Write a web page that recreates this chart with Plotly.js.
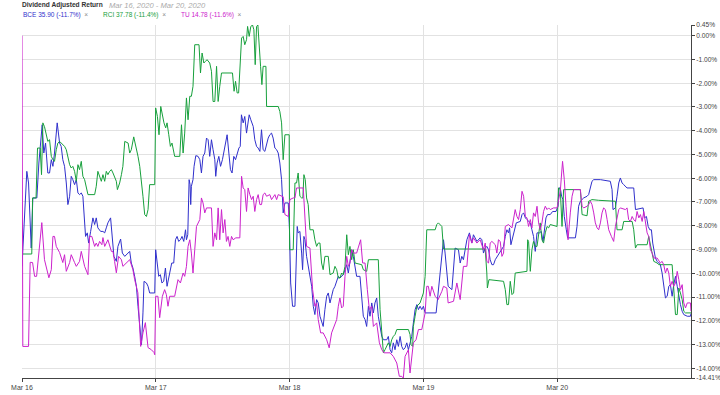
<!DOCTYPE html>
<html>
<head>
<meta charset="utf-8">
<script src="https://cdn.plot.ly/plotly-3.0.1.min.js"></script>
<style>html,body{margin:0;padding:0;background:#fff;}#chart{width:720px;height:395px;}</style>
</head>
<body>
<div id="chart"></div>
<script>
// x = trading-session offset in days from Mar 16 open; y = dividend adjusted return (%)
const dayTicks = [0, 1, 2, 3, 4];
const dayLabels = ["Mar 16", "Mar 17", "Mar 18", "Mar 19", "Mar 20"];
const yTicks = [0.45, 0, -1, -2, -3, -4, -5, -6, -7, -8, -9, -10, -11, -12, -13, -14, -14.41];
const seriesNames = ["BCE", "RCI", "TU"];
const legendLabels = ["BCE 35.90 (-11.7%)", "RCI 37.78 (-11.4%)", "TU 14.78 (-11.6%)"];
const seriesColors = ["#3030cc", "#17a03c", "#cc22cc"];

const bcePoints = [[0,-9.71],[.036,-5.71],[.049,-6.20],[.069,-8.94],[.081,-6.83],[.111,-6.83],[.126,-5.36],[.138,-4.73],[.151,-3.75],[.163,-4.94],[.176,-4.52],[.193,-5.78],[.206,-5.78],[.219,-5.22],[.231,-5.50],[.243,-4.94],[.256,-4.17],[.263,-3.67],[.281,-4.52],[.293,-4.66],[.305,-5.22],[.318,-5.50],[.331,-6.20],[.343,-7.11],[.356,-6.76],[.368,-5.92],[.380,-6.06],[.393,-6.27],[.406,-6.06],[.418,-6.62],[.430,-6.69],[.443,-6.62],[.455,-6.76],[.468,-8.24],[.475,-8.45],[.488,-8.30],[.498,-8.73],[.513,-8.24],[.530,-7.67],[.543,-7.95],[.555,-7.67],[.567,-8.09],[.588,-8.24],[.605,-8.24],[.618,-8.30],[.630,-8.09],[.642,-7.88],[.662,-7.67],[.672,-8.30],[.687,-9.29],[.705,-9.50],[.717,-8.87],[.737,-8.56],[.750,-9.15],[.768,-9.29],[.780,-9.22],[.792,-9.15],[.805,-9.08],[.817,-9.57],[.829,-9.78],[.842,-10.13],[.855,-10.55],[.867,-11.39],[.880,-12.24],[.893,-13.01],[.904,-11.67],[.912,-10.34],[.930,-10.41],[.942,-10.55],[.954,-10.83],[.992,-10.83],[.999,-9.01],[1.009,-9.57],[1.022,-10.13],[1.034,-10.06],[1.046,-10.41],[1.059,-10.34],[1.072,-9.78],[1.084,-10.55],[1.097,-10.13],[1.109,-9.85],[1.119,-9.57],[1.134,-9.57],[1.147,-8.59],[1.159,-8.45],[1.171,-8.66],[1.184,-8.59],[1.196,-8.45],[1.209,-8.66],[1.222,-8.17],[1.229,-8.59],[1.239,-8.38],[1.249,-6.06],[1.256,-6.27],[1.261,-7.11],[1.266,-6.34],[1.278,-6.06],[1.286,-5.50],[1.299,-5.05],[1.316,-5.08],[1.329,-5.22],[1.341,-5.78],[1.353,-5.08],[1.366,-4.94],[1.379,-4.31],[1.391,-4.38],[1.403,-5.08],[1.416,-4.38],[1.428,-4.80],[1.441,-5.22],[1.448,-5.92],[1.458,-5.36],[1.471,-5.08],[1.484,-5.50],[1.498,-5.22],[1.508,-4.94],[1.521,-4.52],[1.533,-4.17],[1.546,-4.94],[1.558,-5.64],[1.570,-5.78],[1.583,-5.08],[1.596,-5.22],[1.608,-4.94],[1.621,-4.73],[1.631,-4.66],[1.640,-3.33],[1.653,-3.67],[1.665,-3.40],[1.678,-4.10],[1.698,-3.33],[1.710,-3.54],[1.728,-3.82],[1.740,-4.38],[1.753,-4.66],[1.765,-4.73],[1.778,-4.87],[1.790,-3.96],[1.802,-4.80],[1.815,-4.87],[1.828,-4.52],[1.840,-4.31],[1.852,-4.17],[1.865,-4.10],[1.877,-4.31],[1.890,-4.73],[1.903,-4.80],[1.915,-4.94],[1.927,-5.36],[1.940,-6.06],[1.952,-7.46],[1.965,-7.04],[1.990,-7.04],[1.999,-8.17],[2.008,-10.41],[2.022,-11.39],[2.040,-11.39],[2.049,-9.22],[2.057,-8.03],[2.064,-8.30],[2.077,-8.24],[2.090,-9.15],[2.097,-9.85],[2.107,-8.45],[2.115,-8.59],[2.127,-9.29],[2.139,-9.71],[2.152,-10.27],[2.165,-10.55],[2.177,-11.39],[2.189,-11.74],[2.202,-11.11],[2.214,-11.25],[2.227,-11.81],[2.239,-12.09],[2.251,-12.24],[2.264,-11.53],[2.277,-10.97],[2.289,-10.83],[2.302,-11.25],[2.314,-10.97],[2.326,-10.69],[2.339,-10.55],[2.352,-10.34],[2.364,-10.13],[2.376,-10.20],[2.401,-10.06],[2.414,-9.85],[2.427,-9.64],[2.439,-9.99],[2.451,-9.43],[2.464,-9.01],[2.476,-9.29],[2.489,-9.85],[2.501,-10.13],[2.526,-10.13],[2.539,-10.97],[2.551,-11.81],[2.564,-11.95],[2.576,-12.24],[2.589,-11.39],[2.601,-11.81],[2.614,-11.25],[2.626,-11.67],[2.638,-11.25],[2.651,-11.04],[2.663,-11.81],[2.676,-12.24],[2.689,-12.66],[2.701,-12.80],[2.726,-12.80],[2.738,-12.66],[2.751,-13.22],[2.763,-13.35],[2.775,-12.93],[2.788,-13.22],[2.801,-12.80],[2.813,-13.08],[2.826,-12.66],[2.838,-13.08],[2.850,-13.22],[2.863,-13.14],[2.876,-12.93],[2.888,-13.22],[2.900,-12.93],[2.913,-12.66],[2.925,-12.09],[2.938,-11.53],[2.951,-11.32],[2.963,-11.53],[2.975,-11.39],[2.988,-11.53],[3.000,-11.39],[3.013,-11.67],[3.095,-11.67],[3.112,-10.69],[3.132,-9.43],[3.150,-8.59],[3.162,-9.15],[3.185,-10.55],[3.213,-10.69],[3.237,-8.94],[3.262,-9.01],[3.275,-9.57],[3.287,-9.29],[3.299,-9.43],[3.325,-8.59],[3.344,-8.30],[3.362,-8.73],[3.374,-8.38],[3.400,-8.66],[3.412,-8.59],[3.424,-8.51],[3.437,-8.59],[3.449,-9.15],[3.462,-8.94],[3.474,-8.87],[3.487,-9.01],[3.499,-9.43],[3.512,-9.64],[3.524,-9.64],[3.537,-9.43],[3.561,-9.22],[3.574,-9.08],[3.587,-9.01],[3.599,-8.87],[3.612,-8.45],[3.624,-8.17],[3.636,-8.30],[3.644,-8.09],[3.654,-8.80],[3.669,-8.45],[3.681,-8.17],[3.694,-7.88],[3.724,-7.82],[3.737,-7.53],[3.749,-7.46],[3.762,-7.67],[3.774,-7.74],[3.799,-7.88],[3.811,-8.17],[3.823,-8.45],[3.836,-9.08],[3.849,-8.30],[3.868,-8.30],[3.881,-8.24],[3.894,-8.66],[3.904,-8.17],[3.916,-7.67],[3.928,-7.53],[3.948,-7.53],[3.966,-7.40],[3.991,-7.40],[4.006,-7.18],[4.013,-6.41],[4.023,-6.41],[4.033,-6.76],[4.043,-6.90],[4.053,-7.61],[4.068,-8.17],[4.078,-8.51],[4.136,-8.51],[4.148,-8.03],[4.160,-7.18],[4.173,-6.97],[4.198,-6.83],[4.223,-6.76],[4.235,-6.69],[4.248,-6.41],[4.260,-6.13],[4.273,-6.06],[4.323,-6.06],[4.397,-6.13],[4.410,-6.48],[4.417,-7.32],[4.435,-7.25],[4.447,-6.76],[4.460,-6.20],[4.472,-5.99],[4.485,-6.20],[4.497,-6.27],[4.522,-6.41],[4.572,-6.41],[4.585,-7.32],[4.642,-7.25],[4.652,-7.67],[4.667,-7.61],[4.680,-8.03],[4.692,-8.17],[4.704,-8.17],[4.714,-8.73],[4.722,-9.01],[4.734,-9.36],[4.747,-9.50],[4.759,-9.57],[4.771,-9.64],[4.784,-9.99],[4.796,-10.48],[4.809,-11.04],[4.822,-10.97],[4.834,-10.55],[4.846,-10.48],[4.859,-10.97],[4.871,-10.48],[4.884,-10.13],[4.897,-10.55],[4.909,-10.97],[4.921,-11.32],[4.934,-11.60],[4.946,-11.74],[4.972,-11.81],[4.996,-11.81],[5.0,-11.7]];

const rciPoints = [[0,-9.19],[.073,-9.19],[.079,-6.83],[.105,-6.83],[.116,-4.73],[.136,-4.73],[.146,-5.85],[.156,-3.67],[.168,-3.83],[.181,-4.10],[.193,-4.45],[.206,-4.38],[.219,-5.08],[.231,-5.22],[.243,-5.29],[.256,-4.80],[.268,-4.52],[.281,-4.45],[.293,-4.52],[.305,-4.59],[.318,-4.66],[.331,-4.80],[.343,-5.15],[.356,-5.43],[.368,-5.57],[.380,-5.50],[.393,-5.71],[.406,-6.13],[.418,-5.43],[.430,-5.64],[.443,-5.29],[.455,-5.92],[.468,-6.06],[.481,-6.48],[.493,-6.69],[.543,-6.69],[.555,-6.34],[.567,-5.71],[.580,-5.92],[.593,-6.13],[.605,-5.85],[.618,-6.13],[.630,-5.71],[.642,-5.85],[.655,-5.71],[.668,-5.64],[.680,-5.78],[.692,-5.92],[.705,-6.13],[.713,-6.48],[.730,-6.20],[.743,-5.85],[.754,-5.50],[.768,-4.45],[.793,-4.52],[.805,-4.94],[.817,-4.80],[.835,-4.26],[.855,-4.73],[.867,-5.08],[.880,-5.50],[.893,-6.06],[.904,-6.76],[.917,-7.53],[.930,-7.61],[.942,-7.32],[.954,-6.27],[.992,-6.27],[.999,-3.04],[1.012,-3.40],[1.024,-4.17],[1.037,-2.98],[1.049,-3.40],[1.061,-3.67],[1.074,-3.88],[1.084,-3.67],[1.097,-4.17],[1.109,-4.66],[1.121,-4.52],[1.134,-4.87],[1.141,-5.08],[1.179,-5.08],[1.192,-3.75],[1.204,-4.94],[1.216,-4.10],[1.229,-2.62],[1.241,-3.54],[1.254,-2.55],[1.266,-2.55],[1.278,-2.13],[1.291,-0.38],[1.323,-0.38],[1.334,-1.57],[1.346,-0.73],[1.359,-1.15],[1.371,-1.08],[1.383,-1.01],[1.403,-1.15],[1.416,-1.50],[1.428,-2.77],[1.441,-2.77],[1.454,-1.29],[1.466,-2.77],[1.478,-2.13],[1.491,-1.57],[1.573,-1.57],[1.585,-2.34],[1.596,-1.92],[1.608,-2.41],[1.619,-2.41],[1.628,-1.43],[1.641,-0.10],[1.653,-0.03],[1.665,-0.38],[1.678,-0.17],[1.686,0.39],[1.698,-0.03],[1.710,0.39],[1.723,0.45],[1.733,0.25],[1.743,-1.22],[1.753,0.39],[1.763,0.45],[1.772,-0.17],[1.783,-1.29],[1.793,-2.06],[1.802,-1.29],[1.823,-1.29],[1.828,-2.98],[1.915,-2.98],[1.927,-3.19],[1.940,-3.67],[1.952,-5.22],[1.965,-4.17],[1.997,-4.17],[2.000,-9.01],[2.027,-9.01],[2.040,-6.20],[2.052,-6.20],[2.064,-5.78],[2.077,-6.76],[2.090,-6.83],[2.099,-6.83],[2.107,-5.85],[2.117,-6.06],[2.127,-6.83],[2.139,-7.11],[2.152,-8.17],[2.177,-8.17],[2.189,-8.59],[2.202,-8.87],[2.214,-8.73],[2.227,-8.73],[2.239,-9.57],[2.251,-9.85],[2.264,-9.29],[2.289,-9.29],[2.302,-10.06],[2.326,-9.99],[2.339,-9.71],[2.352,-9.85],[2.364,-10.20],[2.376,-10.20],[2.389,-9.99],[2.401,-10.06],[2.414,-9.71],[2.427,-8.38],[2.439,-9.22],[2.451,-8.87],[2.464,-9.43],[2.476,-9.01],[2.489,-9.57],[2.526,-9.64],[2.539,-9.64],[2.551,-9.85],[2.576,-9.92],[2.589,-9.43],[2.663,-9.43],[2.676,-11.53],[2.689,-12.72],[2.701,-13.35],[2.713,-13.22],[2.726,-13.08],[2.738,-12.93],[2.751,-13.08],[2.763,-12.80],[2.775,-12.66],[2.788,-12.58],[2.801,-12.37],[2.888,-12.37],[2.900,-12.58],[2.908,-13.01],[2.920,-13.08],[2.925,-12.24],[2.938,-11.81],[2.951,-11.39],[2.975,-11.25],[2.988,-10.97],[3.000,-10.83],[3.013,-10.13],[3.025,-8.17],[3.088,-8.17],[3.100,-7.95],[3.112,-7.88],[3.138,-8.03],[3.150,-8.98],[3.462,-8.98],[3.474,-9.99],[3.478,-10.62],[3.490,-10.27],[3.599,-10.34],[3.612,-10.69],[3.624,-11.32],[3.636,-11.32],[3.649,-10.34],[3.662,-10.90],[3.674,-10.83],[3.686,-9.99],[3.774,-9.92],[3.779,-8.59],[3.786,-8.66],[3.799,-9.92],[3.811,-9.01],[3.823,-8.66],[3.836,-8.87],[3.849,-8.87],[3.861,-8.45],[3.873,-7.88],[3.886,-8.59],[3.898,-8.73],[3.911,-8.30],[3.924,-8.03],[3.936,-8.09],[3.948,-7.95],[3.999,-8.03],[4.010,-6.41],[4.023,-6.48],[4.036,-8.03],[4.048,-6.48],[4.173,-6.48],[4.186,-7.53],[4.223,-7.58],[4.235,-6.97],[4.260,-6.90],[4.310,-6.93],[4.435,-6.97],[4.447,-8.17],[4.485,-8.17],[4.497,-7.82],[4.560,-7.82],[4.572,-8.17],[4.585,-8.94],[4.597,-8.80],[4.672,-8.80],[4.684,-8.45],[4.697,-8.87],[4.710,-9.22],[4.722,-9.50],[4.747,-9.57],[4.759,-9.64],[4.859,-9.64],[4.871,-10.69],[4.884,-11.74],[4.897,-11.74],[4.909,-10.62],[4.921,-10.83],[4.934,-11.11],[4.946,-11.60],[4.959,-11.67],[5.0,-11.67]];

const tuPoints = [[0,0],[.006,-13.08],[.049,-13.08],[.061,-9.54],[.079,-9.55],[.094,-10.13],[.109,-10.13],[.120,-9.43],[.148,-7.87],[.168,-9.43],[.201,-10.19],[.219,-9.85],[.231,-8.45],[.243,-8.45],[.256,-8.87],[.281,-9.13],[.305,-9.55],[.318,-9.22],[.331,-9.92],[.356,-9.55],[.368,-9.22],[.393,-9.55],[.406,-9.71],[.430,-9.50],[.443,-9.08],[.468,-9.71],[.493,-10.06],[.505,-8.45],[.522,-8.45],[.543,-8.87],[.555,-8.73],[.567,-8.87],[.580,-8.66],[.597,-8.80],[.605,-8.50],[.618,-8.87],[.642,-8.59],[.668,-9.08],[.680,-9.08],[.692,-9.50],[.705,-9.98],[.722,-9.29],[.743,-9.43],[.754,-9.71],[.780,-9.57],[.805,-9.43],[.829,-9.85],[.842,-10.27],[.866,-10.82],[.887,-13.08],[.904,-12.51],[.922,-12.08],[.942,-13.13],[.967,-13.22],[.987,-13.34],[.992,-13.43],[.999,-10.97],[1.016,-10.97],[1.029,-11.87],[1.049,-10.97],[1.066,-10.69],[1.079,-10.90],[1.091,-11.39],[1.104,-10.97],[1.141,-10.97],[1.166,-10.27],[1.184,-10.41],[1.204,-9.99],[1.216,-10.13],[1.229,-9.71],[1.241,-8.87],[1.254,-8.59],[1.266,-9.15],[1.278,-9.99],[1.291,-9.01],[1.304,-8.03],[1.329,-7.74],[1.341,-6.83],[1.353,-7.04],[1.366,-7.46],[1.379,-7.25],[1.416,-7.25],[1.428,-8.87],[1.441,-8.30],[1.454,-8.59],[1.466,-7.25],[1.478,-8.59],[1.491,-7.32],[1.503,-8.30],[1.516,-7.74],[1.528,-8.66],[1.540,-8.45],[1.553,-8.87],[1.566,-8.45],[1.578,-8.59],[1.598,-8.51],[1.628,-8.51],[1.641,-5.92],[1.653,-6.41],[1.665,-6.48],[1.678,-7.40],[1.690,-6.41],[1.703,-6.69],[1.716,-6.90],[1.728,-6.76],[1.740,-7.40],[1.753,-6.90],[1.765,-6.69],[1.778,-7.11],[1.790,-7.11],[1.802,-6.69],[1.815,-6.62],[1.828,-6.76],[1.852,-6.69],[1.865,-6.90],[1.890,-6.69],[1.903,-6.90],[1.915,-6.69],[1.952,-6.78],[1.965,-7.53],[1.990,-7.61],[2.002,-6.90],[2.027,-6.83],[2.040,-6.83],[2.052,-6.41],[2.102,-6.41],[2.127,-8.87],[2.152,-8.94],[2.172,-10.69],[2.189,-11.39],[2.202,-11.25],[2.214,-11.95],[2.232,-12.51],[2.251,-12.51],[2.277,-12.80],[2.296,-13.14],[2.314,-12.51],[2.339,-12.08],[2.352,-11.95],[2.364,-11.39],[2.376,-11.04],[2.389,-11.46],[2.401,-11.39],[2.414,-10.13],[2.427,-9.29],[2.439,-9.71],[2.451,-9.57],[2.464,-9.01],[2.476,-9.15],[2.501,-9.15],[2.521,-8.80],[2.531,-8.59],[2.546,-9.57],[2.564,-9.57],[2.581,-10.69],[2.596,-11.53],[2.614,-11.39],[2.626,-12.24],[2.651,-12.09],[2.671,-12.93],[2.689,-13.22],[2.706,-13.35],[2.751,-13.35],[2.775,-13.50],[2.801,-13.78],[2.820,-14.34],[2.838,-14.34],[2.850,-14.41],[2.863,-13.50],[2.888,-13.22],[2.900,-14.20],[2.913,-13.50],[2.925,-12.93],[2.945,-12.80],[2.963,-12.37],[2.988,-12.37],[3.000,-12.09],[3.013,-11.67],[3.025,-10.55],[3.037,-10.55],[3.050,-10.97],[3.063,-10.55],[3.088,-10.97],[3.110,-11.11],[3.138,-10.76],[3.150,-10.55],[3.175,-10.62],[3.185,-11.25],[3.225,-11.18],[3.250,-10.41],[3.275,-11.11],[3.299,-9.71],[3.325,-9.71],[3.344,-8.38],[3.362,-8.73],[3.374,-8.51],[3.400,-8.73],[3.424,-8.59],[3.449,-9.01],[3.462,-8.73],[3.474,-9.50],[3.487,-9.57],[3.499,-8.73],[3.512,-8.66],[3.537,-8.80],[3.549,-9.15],[3.561,-8.59],[3.574,-8.66],[3.587,-9.29],[3.599,-9.15],[3.612,-8.03],[3.636,-7.95],[3.662,-8.09],[3.674,-7.61],[3.686,-7.32],[3.699,-7.61],[3.711,-7.74],[3.724,-7.32],[3.737,-6.55],[3.749,-6.76],[3.762,-7.61],[3.774,-7.67],[3.786,-8.03],[3.799,-7.74],[3.811,-8.09],[3.823,-7.46],[3.836,-7.61],[3.849,-7.18],[3.861,-7.88],[3.873,-8.17],[3.886,-7.88],[3.898,-7.40],[3.911,-7.18],[3.924,-7.32],[3.936,-7.25],[3.948,-7.32],[3.973,-7.25],[3.999,-7.25],[4.010,-6.97],[4.023,-6.55],[4.040,-5.29],[4.053,-6.06],[4.066,-7.18],[4.081,-8.59],[4.098,-7.46],[4.111,-6.76],[4.123,-6.48],[4.173,-6.48],[4.186,-7.18],[4.198,-7.25],[4.223,-7.18],[4.235,-7.11],[4.248,-6.97],[4.260,-7.11],[4.273,-7.46],[4.285,-7.88],[4.298,-8.09],[4.310,-8.17],[4.323,-7.88],[4.335,-7.46],[4.347,-7.25],[4.360,-7.32],[4.373,-7.74],[4.385,-8.17],[4.405,-8.45],[4.422,-8.66],[4.435,-8.03],[4.447,-7.61],[4.460,-7.32],[4.472,-7.25],[4.510,-7.32],[4.522,-7.25],[4.534,-7.74],[4.547,-7.82],[4.560,-7.61],[4.572,-7.74],[4.585,-7.82],[4.597,-7.40],[4.610,-7.67],[4.622,-7.53],[4.635,-7.82],[4.647,-7.40],[4.672,-8.30],[4.684,-8.45],[4.697,-9.01],[4.710,-9.15],[4.722,-9.36],[4.747,-9.36],[4.771,-9.57],[4.784,-9.50],[4.796,-9.64],[4.809,-9.99],[4.822,-9.78],[4.834,-9.99],[4.846,-10.55],[4.859,-10.34],[4.871,-10.55],[4.884,-10.41],[4.897,-9.92],[4.909,-10.27],[4.921,-10.69],[4.934,-10.48],[4.946,-11.25],[4.959,-11.46],[4.972,-11.25],[4.996,-11.25],[5.0,-11.6]];

const allPoints = [bcePoints, rciPoints, tuPoints];
const FONT = "Liberation Sans, Arial, sans-serif";

const traces = allPoints.map((pts, i) => ({
  type: "scatter",
  mode: "lines",
  name: seriesNames[i],
  x: pts.map(p => p[0]),
  y: pts.map(p => p[1]),
  line: {color: seriesColors[i], width: 1},
  hoverinfo: "skip"
}));

const legendX = [-0.0015, 0.118, 0.235];
const annotations = [
  {xref: "paper", yref: "paper", x: -0.003, y: 1.056, xanchor: "left", yanchor: "middle", showarrow: false,
   text: "<b>Dividend Adjusted Return</b>", font: {family: FONT, size: 6.6, color: "#333"}},
  {xref: "paper", yref: "paper", x: 0.127, y: 1.056, xanchor: "left", yanchor: "middle", showarrow: false,
   text: "<i>Mar 16, 2020 - Mar 20, 2020</i>", font: {family: FONT, size: 7.6, color: "#aaa"}}
];
legendLabels.forEach((lab, i) => {
  annotations.push({xref: "paper", yref: "paper", x: legendX[i], y: 1.028, xanchor: "left", yanchor: "middle",
    showarrow: false,
    text: lab + "  <span style=\"color:#888\">×</span>",
    font: {family: FONT, size: 6.5, color: seriesColors[i]}});
});

const layout = {
  width: 720, height: 395,
  margin: {l: 22, r: 29, t: 25, b: 17, pad: 0},
  paper_bgcolor: "#fff", plot_bgcolor: "#fff",
  showlegend: false,
  xaxis: {
    range: [0, 5], tickmode: "array", tickvals: dayTicks, ticktext: dayLabels,
    showgrid: true, gridcolor: "#e2e2e2", gridwidth: 1, zeroline: false,
    showline: true, linecolor: "#444", linewidth: 1,
    ticks: "outside", ticklen: 3, tickcolor: "#444",
    tickfont: {family: FONT, size: 7, color: "#444"}, fixedrange: true
  },
  yaxis: {
    side: "right", range: [-14.41, 0.45], tickmode: "array", tickvals: yTicks,
    ticktext: yTicks.map(v => v.toFixed(2) + "%"),
    showgrid: true, gridcolor: "#e2e2e2", gridwidth: 1, zeroline: false,
    showline: true, linecolor: "#444", linewidth: 1,
    ticks: "outside", ticklen: 3, tickcolor: "#444",
    tickfont: {family: FONT, size: 6.6, color: "#444"}, fixedrange: true
  },
  annotations: annotations
};

Plotly.newPlot("chart", traces, layout, {staticPlot: true, displayModeBar: false});
</script>
</body>
</html>
